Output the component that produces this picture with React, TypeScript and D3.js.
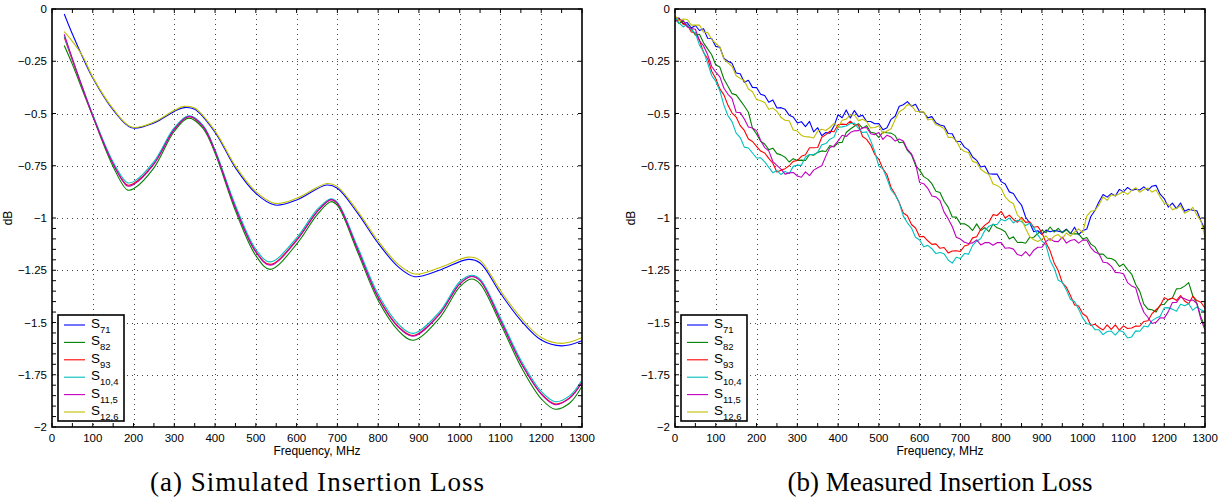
import React from 'react';
import * as d3 from 'd3';

// ---------- axis data ----------
const xTicks = [0, 100, 200, 300, 400, 500, 600, 700, 800, 900, 1000, 1100, 1200, 1300];
const xTickLabels = ['0', '100', '200', '300', '400', '500', '600', '700', '800', '900', '1000', '1100', '1200', '1300'];
const xMinorTicks = [50, 150, 250, 350, 450, 550, 650, 750, 850, 950, 1050, 1150, 1250];
const yTicks = [0, -0.25, -0.5, -0.75, -1, -1.25, -1.5, -1.75, -2];
const yTickLabels = ['0', '\u22120.25', '\u22120.5', '\u22120.75', '\u22121', '\u22121.25', '\u22121.5', '\u22121.75', '\u22122'];
const yMinorTicks = [-1.05, -1.1, -1.15, -1.2, -1.3, -1.35, -1.4, -1.45, -1.55, -1.6, -1.65, -1.7, -1.8, -1.85, -1.9, -1.95];

const seriesNames = ['71', '82', '93', '10,4', '11,5', '12,6'];
const seriesColors = ['#0000ff', '#008000', '#ff0000', '#00bfbf', '#bf00bf', '#bfbf00'];

// ---------- simulated insertion loss ----------
const simFreqLow = [30, 50, 75, 100, 150, 185, 200, 250, 300, 335, 370, 400, 450, 500, 535, 600, 650, 684, 700, 750, 800, 850, 886, 950, 1000, 1029, 1050, 1100, 1150, 1200, 1234, 1270, 1300];
const simFreqHigh = [30, 50, 75, 100, 150, 195, 250, 300, 324, 350, 400, 450, 500, 547, 600, 674, 700, 750, 800, 850, 890, 950, 1021, 1050, 1100, 1150, 1200, 1250, 1300];

const sim71 = [-0.024, -0.12, -0.23, -0.33, -0.483, -0.568, -0.545, -0.49, -0.472, -0.48, -0.59, -0.76, -0.882, -0.938, -0.914, -0.842, -0.858, -0.978, -1.121, -1.235, -1.281, -1.25, -1.198, -1.215, -1.36, -1.49, -1.584, -1.612, -1.587];
const sim126 = [-0.108, -0.155, -0.225, -0.326, -0.478, -0.565, -0.541, -0.485, -0.466, -0.474, -0.584, -0.752, -0.874, -0.93, -0.906, -0.835, -0.85, -0.968, -1.11, -1.223, -1.268, -1.238, -1.187, -1.203, -1.347, -1.477, -1.572, -1.6, -1.573];
const sim82 = [-0.175, -0.265, -0.39, -0.515, -0.755, -0.866, -0.86, -0.76, -0.585, -0.522, -0.57, -0.69, -0.965, -1.18, -1.246, -1.125, -0.985, -0.922, -0.94, -1.165, -1.395, -1.54, -1.585, -1.48, -1.33, -1.292, -1.315, -1.505, -1.71, -1.865, -1.915, -1.885, -1.805];
const sim93 = [-0.135, -0.245, -0.38, -0.51, -0.74, -0.842, -0.835, -0.74, -0.575, -0.515, -0.56, -0.68, -0.95, -1.16, -1.222, -1.105, -0.97, -0.912, -0.93, -1.15, -1.377, -1.52, -1.562, -1.46, -1.315, -1.28, -1.3, -1.488, -1.69, -1.84, -1.89, -1.86, -1.785];
const sim104 = [-0.13, -0.24, -0.375, -0.505, -0.732, -0.831, -0.826, -0.73, -0.568, -0.511, -0.555, -0.675, -0.94, -1.15, -1.21, -1.095, -0.96, -0.908, -0.925, -1.14, -1.365, -1.508, -1.552, -1.45, -1.305, -1.274, -1.292, -1.478, -1.68, -1.83, -1.879, -1.85, -1.775];
const sim115 = [-0.121, -0.238, -0.378, -0.51, -0.742, -0.847, -0.84, -0.742, -0.576, -0.514, -0.56, -0.68, -0.952, -1.163, -1.226, -1.108, -0.972, -0.912, -0.93, -1.152, -1.38, -1.523, -1.565, -1.462, -1.316, -1.28, -1.3, -1.49, -1.693, -1.843, -1.893, -1.862, -1.787];

// ---------- measured insertion loss (one reading every 10 MHz, 0..1300) ----------
const measFreq = d3.range(0, 1301, 10);

const meas71 = [
  -0.045, -0.043, -0.07, -0.065, -0.091, -0.079, -0.103, -0.094, -0.14, -0.141,
  -0.179, -0.183, -0.236, -0.25, -0.26, -0.306, -0.31, -0.351, -0.341, -0.375,
  -0.376, -0.408, -0.414, -0.446, -0.435, -0.474, -0.472, -0.48, -0.508, -0.517,
  -0.545, -0.539, -0.563, -0.538, -0.588, -0.568, -0.606, -0.591, -0.594, -0.56,
  -0.506, -0.52, -0.483, -0.521, -0.486, -0.515, -0.508, -0.538, -0.538, -0.549,
  -0.548, -0.578, -0.568, -0.528, -0.513, -0.465, -0.458, -0.443, -0.465, -0.456,
  -0.492, -0.494, -0.521, -0.515, -0.544, -0.555, -0.56, -0.596, -0.597, -0.635,
  -0.633, -0.661, -0.674, -0.708, -0.724, -0.756, -0.751, -0.788, -0.79, -0.79,
  -0.826, -0.837, -0.875, -0.883, -0.915, -0.938, -0.995, -1.024, -1.066, -1.061,
  -1.078, -1.058, -1.066, -1.06, -1.063, -1.068, -1.053, -1.075, -1.044, -1.08,
  -1.061, -1.053, -0.993, -0.964, -0.922, -0.888, -0.9, -0.883, -0.895, -0.863,
  -0.875, -0.854, -0.868, -0.862, -0.866, -0.851, -0.868, -0.848, -0.844, -0.886,
  -0.907, -0.948, -0.929, -0.955, -0.928, -0.968, -0.958, -0.963, -0.965, -1.014,
  -1.055,
];
const meas82 = [
  -0.044, -0.07, -0.056, -0.085, -0.093, -0.125, -0.121, -0.162, -0.191, -0.219,
  -0.268, -0.278, -0.335, -0.37, -0.405, -0.411, -0.437, -0.464, -0.494, -0.57,
  -0.598, -0.633, -0.646, -0.673, -0.666, -0.692, -0.698, -0.709, -0.732, -0.716,
  -0.725, -0.723, -0.725, -0.696, -0.7, -0.686, -0.679, -0.682, -0.653, -0.66,
  -0.64, -0.638, -0.591, -0.574, -0.561, -0.549, -0.57, -0.558, -0.59, -0.593,
  -0.615, -0.589, -0.592, -0.594, -0.606, -0.64, -0.636, -0.677, -0.698, -0.748,
  -0.771, -0.802, -0.814, -0.836, -0.872, -0.878, -0.92, -0.948, -0.995, -0.996,
  -1.027, -1.028, -1.039, -1.06, -1.028, -1.06, -1.046, -1.065, -1.029, -1.047,
  -1.054, -1.066, -1.1, -1.09, -1.117, -1.116, -1.121, -1.093, -1.092, -1.074,
  -1.059, -1.07, -1.043, -1.067, -1.05, -1.071, -1.056, -1.074, -1.076, -1.076,
  -1.1, -1.093, -1.125, -1.138, -1.173, -1.173, -1.192, -1.194, -1.204, -1.232,
  -1.22, -1.247, -1.268, -1.318, -1.351, -1.412, -1.436, -1.439, -1.45, -1.416,
  -1.413, -1.39, -1.383, -1.339, -1.337, -1.326, -1.309, -1.372, -1.408, -1.475,
  -1.52,
];
const meas93 = [
  -0.058, -0.047, -0.073, -0.075, -0.11, -0.114, -0.149, -0.208, -0.237, -0.298,
  -0.333, -0.382, -0.411, -0.461, -0.498, -0.517, -0.558, -0.581, -0.622, -0.634,
  -0.657, -0.68, -0.689, -0.715, -0.738, -0.78, -0.771, -0.764, -0.75, -0.729,
  -0.725, -0.705, -0.697, -0.664, -0.664, -0.663, -0.614, -0.601, -0.585, -0.587,
  -0.554, -0.551, -0.553, -0.537, -0.555, -0.555, -0.61, -0.624, -0.651, -0.696,
  -0.719, -0.765, -0.793, -0.854, -0.886, -0.927, -0.976, -0.989, -1.031, -1.048,
  -1.09, -1.088, -1.109, -1.126, -1.124, -1.145, -1.141, -1.167, -1.158, -1.157,
  -1.16, -1.134, -1.128, -1.095, -1.09, -1.054, -1.034, -1.02, -0.984, -0.988,
  -0.968, -1.0, -0.986, -1.007, -1.02, -0.997, -1.021, -1.018, -1.044, -1.041,
  -1.071, -1.118, -1.157, -1.215, -1.251, -1.31, -1.331, -1.371, -1.416, -1.421,
  -1.458, -1.471, -1.514, -1.508, -1.524, -1.536, -1.511, -1.533, -1.511, -1.537,
  -1.516, -1.529, -1.526, -1.517, -1.518, -1.495, -1.492, -1.458, -1.439, -1.42,
  -1.381, -1.391, -1.383, -1.394, -1.371, -1.397, -1.41, -1.374, -1.395, -1.403,
  -1.432,
];
const meas104 = [
  -0.041, -0.066, -0.086, -0.073, -0.102, -0.115, -0.173, -0.203, -0.259, -0.318,
  -0.346, -0.391, -0.461, -0.511, -0.54, -0.594, -0.615, -0.661, -0.665, -0.689,
  -0.713, -0.712, -0.731, -0.758, -0.783, -0.773, -0.792, -0.777, -0.788, -0.753,
  -0.747, -0.748, -0.708, -0.696, -0.696, -0.686, -0.65, -0.644, -0.623, -0.613,
  -0.565, -0.564, -0.56, -0.548, -0.546, -0.571, -0.591, -0.588, -0.63, -0.683,
  -0.753, -0.765, -0.811, -0.866, -0.89, -0.926, -0.991, -1.023, -1.048, -1.092,
  -1.105, -1.138, -1.131, -1.147, -1.17, -1.165, -1.171, -1.201, -1.216, -1.188,
  -1.194, -1.17, -1.173, -1.131, -1.111, -1.098, -1.06, -1.039, -1.031, -1.031,
  -1.006, -1.014, -1.0, -1.023, -1.011, -1.017, -1.036, -1.025, -1.046, -1.081,
  -1.109, -1.13, -1.202, -1.24, -1.298, -1.308, -1.344, -1.39, -1.4, -1.436,
  -1.478, -1.506, -1.508, -1.534, -1.535, -1.558, -1.543, -1.541, -1.56, -1.538,
  -1.546, -1.574, -1.569, -1.54, -1.542, -1.517, -1.521, -1.491, -1.479, -1.47,
  -1.43, -1.429, -1.436, -1.446, -1.413, -1.42, -1.41, -1.441, -1.425, -1.439,
  -1.448,
];
const meas115 = [
  -0.06, -0.052, -0.055, -0.085, -0.093, -0.097, -0.152, -0.176, -0.218, -0.275,
  -0.302, -0.325, -0.379, -0.408, -0.429, -0.494, -0.496, -0.526, -0.565, -0.569,
  -0.582, -0.629, -0.663, -0.679, -0.73, -0.748, -0.766, -0.79, -0.784, -0.782,
  -0.799, -0.805, -0.779, -0.797, -0.771, -0.76, -0.75, -0.704, -0.662, -0.655,
  -0.631, -0.604, -0.61, -0.591, -0.583, -0.582, -0.569, -0.567, -0.597, -0.601,
  -0.591, -0.624, -0.604, -0.613, -0.632, -0.622, -0.632, -0.672, -0.693, -0.739,
  -0.83, -0.836, -0.858, -0.895, -0.899, -0.917, -0.972, -1.003, -1.041, -1.092,
  -1.101, -1.116, -1.122, -1.119, -1.105, -1.129, -1.118, -1.117, -1.13, -1.118,
  -1.118, -1.145, -1.142, -1.149, -1.175, -1.181, -1.161, -1.182, -1.154, -1.14,
  -1.14, -1.112, -1.099, -1.112, -1.113, -1.091, -1.12, -1.108, -1.103, -1.12,
  -1.106, -1.105, -1.142, -1.163, -1.171, -1.212, -1.214, -1.23, -1.26, -1.262,
  -1.267, -1.309, -1.325, -1.334, -1.402, -1.451, -1.476, -1.505, -1.499, -1.477,
  -1.479, -1.448, -1.404, -1.404, -1.378, -1.386, -1.395, -1.392, -1.409, -1.485,
  -1.535,
];
const meas126 = [
  -0.032, -0.057, -0.048, -0.05, -0.077, -0.077, -0.077, -0.111, -0.112, -0.145,
  -0.164, -0.182, -0.24, -0.258, -0.275, -0.319, -0.332, -0.342, -0.383, -0.396,
  -0.433, -0.439, -0.447, -0.48, -0.474, -0.49, -0.519, -0.532, -0.535, -0.579,
  -0.584, -0.605, -0.611, -0.612, -0.617, -0.584, -0.575, -0.581, -0.567, -0.547,
  -0.566, -0.532, -0.527, -0.507, -0.507, -0.534, -0.528, -0.538, -0.569, -0.567,
  -0.559, -0.596, -0.584, -0.573, -0.529, -0.492, -0.48, -0.458, -0.46, -0.489,
  -0.492, -0.492, -0.531, -0.526, -0.553, -0.561, -0.572, -0.614, -0.614, -0.63,
  -0.667, -0.682, -0.687, -0.729, -0.736, -0.767, -0.781, -0.792, -0.837, -0.844,
  -0.858, -0.899, -0.92, -0.932, -0.986, -1.004, -1.05, -1.089, -1.104, -1.112,
  -1.101, -1.085, -1.109, -1.087, -1.079, -1.099, -1.072, -1.087, -1.067, -1.052,
  -1.07, -0.991, -0.968, -0.964, -0.937, -0.899, -0.916, -0.889, -0.893, -0.884,
  -0.874, -0.887, -0.868, -0.855, -0.877, -0.864, -0.857, -0.876, -0.866, -0.9,
  -0.929, -0.934, -0.96, -0.954, -0.942, -0.977, -0.967, -0.949, -0.986, -1.014,
  -1.09,
];

type Series = { freq: number[]; values: number[]; color: string };

const simSeries: Series[] = [
  { freq: simFreqHigh, values: sim71, color: seriesColors[0] },
  { freq: simFreqLow, values: sim82, color: seriesColors[1] },
  { freq: simFreqLow, values: sim93, color: seriesColors[2] },
  { freq: simFreqLow, values: sim104, color: seriesColors[3] },
  { freq: simFreqLow, values: sim115, color: seriesColors[4] },
  { freq: simFreqHigh, values: sim126, color: seriesColors[5] },
];
const measSeries: Series[] = [
  { freq: measFreq, values: meas71, color: seriesColors[0] },
  { freq: measFreq, values: meas82, color: seriesColors[1] },
  { freq: measFreq, values: meas93, color: seriesColors[2] },
  { freq: measFreq, values: meas104, color: seriesColors[3] },
  { freq: measFreq, values: meas115, color: seriesColors[4] },
  { freq: measFreq, values: meas126, color: seriesColors[5] },
];

const TOP = 9;
const BOTTOM = 427;
const SANS = '"Liberation Sans", Arial, Helvetica, sans-serif';
const SERIF = '"Liberation Serif", "Times New Roman", Times, serif';

function Panel(props: {
  id: string;
  x0: number;
  x1: number;
  series: Series[];
  smooth: boolean;
  caption: string;
  captionWidth: number;
}) {
  const { id, x0, x1, series, smooth, caption, captionWidth } = props;
  const x = d3.scaleLinear().domain([0, 1300]).range([x0, x1]);
  const y = d3.scaleLinear().domain([-2, 0]).range([BOTTOM, TOP]);
  const cx = (x0 + x1) / 2;

  const lineGen = (s: Series) =>
    d3
      .line<number>()
      .x((_, i) => x(s.freq[i]))
      .y((v) => y(v))
      .curve(smooth ? d3.curveCatmullRom.alpha(0.5) : d3.curveLinear)(s.values) || '';

  const tickLen = 4;
  const legX = x0 + 6;
  const legY = 315;

  return (
    <g>
      <defs>
        <clipPath id={`clip-${id}`}>
          <rect x={x0} y={TOP} width={x1 - x0} height={BOTTOM - TOP} />
        </clipPath>
      </defs>
      <rect x={x0} y={TOP} width={x1 - x0} height={BOTTOM - TOP} fill="#fff" />
      {/* grid */}
      <g stroke="#444" strokeWidth={1} strokeDasharray="1,4" shapeRendering="crispEdges">
        {xTicks.slice(1, -1).map((t) => (
          <line key={'gx' + t} x1={Math.round(x(t)) + 0.5} x2={Math.round(x(t)) + 0.5} y1={TOP} y2={BOTTOM} />
        ))}
        {yTicks.slice(1, -1).map((t) => (
          <line key={'gy' + t} x1={x0} x2={x1} y1={Math.round(y(t)) + 0.5} y2={Math.round(y(t)) + 0.5} />
        ))}
      </g>
      {/* curves */}
      <g clipPath={`url(#clip-${id})`} fill="none" strokeWidth={1.1} strokeLinejoin="round">
        {series.map((s, i) => (
          <path key={i} d={lineGen(s)} stroke={s.color} />
        ))}
      </g>
      {/* ticks */}
      <g stroke="#000" strokeWidth={1}>
        {xTicks.concat(xMinorTicks).map((t) => (
          <g key={'tx' + t}>
            <line x1={x(t)} x2={x(t)} y1={BOTTOM} y2={BOTTOM - tickLen} />
            <line x1={x(t)} x2={x(t)} y1={TOP} y2={TOP + tickLen} />
          </g>
        ))}
        {yTicks.concat(yMinorTicks).map((t) => (
          <g key={'ty' + t}>
            <line x1={x0} x2={x0 + tickLen} y1={y(t)} y2={y(t)} />
            <line x1={x1} x2={x1 - tickLen} y1={y(t)} y2={y(t)} />
          </g>
        ))}
      </g>
      <rect x={x0} y={TOP} width={x1 - x0} height={BOTTOM - TOP} fill="none" stroke="#000" strokeWidth={1.6} />
      {/* tick labels */}
      <g fontFamily={SANS} fontSize={11.5} fill="#000">
        {xTicks.map((t, i) => (
          <text key={'lx' + t} x={x(t)} y={BOTTOM + 15} textAnchor="middle">
            {xTickLabels[i]}
          </text>
        ))}
        {yTicks.map((t, i) => (
          <text key={'ly' + t} x={x0 - 5} y={y(t) + 4} textAnchor="end">
            {yTickLabels[i]}
          </text>
        ))}
        <text x={cx} y={BOTTOM + 28} textAnchor="middle" fontSize={12}>
          Frequency, MHz
        </text>
        <text transform={`translate(${x0 - 40},${(TOP + BOTTOM) / 2}) rotate(-90)`} textAnchor="middle" fontSize={12}>
          dB
        </text>
      </g>
      {/* legend */}
      <g>
        <rect x={legX} y={legY} width={66} height={106} fill="#fff" stroke="#000" strokeWidth={1.6} />
        {series.map((s, i) => {
          const ly = legY + 10 + i * 17.4;
          return (
            <g key={'leg' + i}>
              <line x1={legX + 6} x2={legX + 27} y1={ly} y2={ly} stroke={s.color} strokeWidth={1.1} />
              <text x={legX + 33} y={ly + 3} fontFamily={SANS} fontSize={13.5} fill="#000">
                S
                <tspan fontSize={9.5} dy={5}>
                  {seriesNames[i]}
                </tspan>
              </text>
            </g>
          );
        })}
      </g>
      {/* caption */}
      <text x={cx} y={491} textAnchor="middle" fontFamily={SERIF} fontSize={27} fill="#000" textLength={captionWidth} lengthAdjust="spacing">
        {caption}
      </text>
    </g>
  );
}

export default function App() {
  return (
    <svg
      width={1228}
      height={504}
      viewBox="0 0 1228 504"
      style={{ position: 'absolute', left: 0, top: 0, background: '#fff' }}
    >
      <rect x={0} y={0} width={1228} height={504} fill="#fff" />
      <Panel id="a" x0={52} x1={582} series={simSeries} smooth={true} caption="(a) Simulated Insertion Loss" captionWidth={334} />
      <Panel id="b" x0={675} x1={1205} series={measSeries} smooth={false} caption="(b) Measured Insertion Loss" captionWidth={305} />
    </svg>
  );
}
